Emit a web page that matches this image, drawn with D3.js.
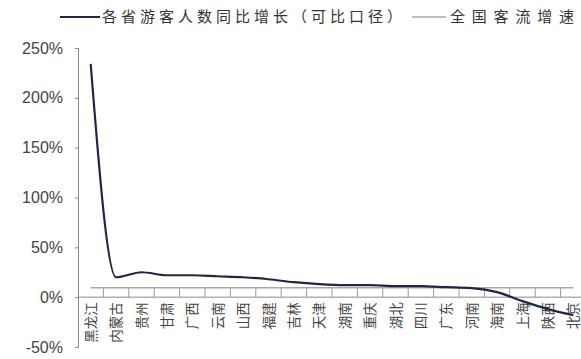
<!DOCTYPE html>
<html><head><meta charset="utf-8">
<script src="https://cdn.jsdelivr.net/npm/d3@7"></script>
<style>
body{margin:0;background:#fff;}
svg{display:block;}
</style></head>
<body>
<svg id="c" width="581" height="359"></svg>
<script>
const categories = ["黑龙江","内蒙古","贵州","甘肃","广西","云南","山西","福建","吉林","天津","湖南","重庆","湖北","四川","广东","河南","海南","上海","陕西","北京"];
const provinceGrowth = [234,20,25,22,22,21,20,18,15,13,12,12,11,11,10,9,5,-4,-12,-18];
const nationalGrowth = [9.5,9.5,9.5,9.5,9.5,9.5,9.5,9.5,9.5,9.5,9.5,9.5,9.5,9.5,9.5,9.5,9.5,9.5,9.5,9.5];
const yTicks = [-50,0,50,100,150,200,250];
const seriesNames = ["各省游客人数同比增长（可比口径）","全国客流增速"];

const svg = d3.select("#c");
const x = d3.scaleBand().domain(categories).range([78,586]);
const y = d3.scaleLinear().domain([-50,250]).range([347,48]);
const cjk = "'Noto Sans CJK SC','Noto Sans CJK JP',sans-serif";
const cx = d => x(d) + x.bandwidth()/2;

// y axis
const ya = svg.append("g").attr("transform","translate(78,0)")
  .call(d3.axisLeft(y).tickValues(yTicks).tickSize(3).tickPadding(12).tickFormat(d=>d+"%"));
ya.select(".domain").attr("stroke","#8a8a8a");
ya.selectAll(".tick line").attr("stroke","#8a8a8a");
ya.selectAll("text").attr("font-family","'Liberation Sans',Arial,sans-serif").attr("font-size",16).attr("fill","#444");

// x axis (ticks inside, at band boundaries)
svg.append("line").attr("x1",78).attr("x2",586).attr("y1",y(0)).attr("y2",y(0))
  .attr("stroke","#8a8a8a").attr("stroke-width",1);
svg.append("g").selectAll("line").data(categories.slice(1)).join("line")
  .attr("x1",d=>x(d)).attr("x2",d=>x(d))
  .attr("y1",y(0)).attr("y2",y(0)-9)
  .attr("stroke","#9a9a9a").attr("stroke-width",1);

// x labels vertical
svg.append("g").selectAll("text").data(categories).join("text")
  .attr("transform",d=>`translate(${cx(d)+5},${y(0)+5}) rotate(-90)`)
  .attr("text-anchor","end")
  .attr("font-family",cjk).attr("font-size",13.5).attr("fill","#444")
  .text(d=>d);

// national line
const lineN = d3.line().x((d,i)=>cx(categories[i])).y(d=>y(d));
svg.append("path").datum(nationalGrowth).attr("d",lineN)
  .attr("fill","none").attr("stroke","#a8a8a8").attr("stroke-width",1.6);

// province line
const lineP = d3.line().x((d,i)=>cx(categories[i])).y(d=>y(d)).curve(d3.curveMonotoneX);
svg.append("path").datum(provinceGrowth).attr("d",lineP)
  .attr("fill","none").attr("stroke","#1e2846").attr("stroke-width",2.2);

// legend
const lg = svg.append("g");
lg.append("line").attr("x1",60).attr("x2",100).attr("y1",17).attr("y2",17).attr("stroke","#1e2846").attr("stroke-width",2.2);
lg.append("text").attr("x",102).attr("y",22).attr("font-family",cjk).attr("font-size",15).attr("fill","#333")
  .attr("textLength",300).attr("lengthAdjust","spacing").text(seriesNames[0]);
lg.append("line").attr("x1",412).attr("x2",446).attr("y1",17).attr("y2",17).attr("stroke","#a8a8a8").attr("stroke-width",1.6);
lg.append("text").attr("x",450).attr("y",22).attr("font-family",cjk).attr("font-size",15).attr("fill","#333")
  .attr("textLength",124).attr("lengthAdjust","spacing").text(seriesNames[1]);
</script>
</body></html>
